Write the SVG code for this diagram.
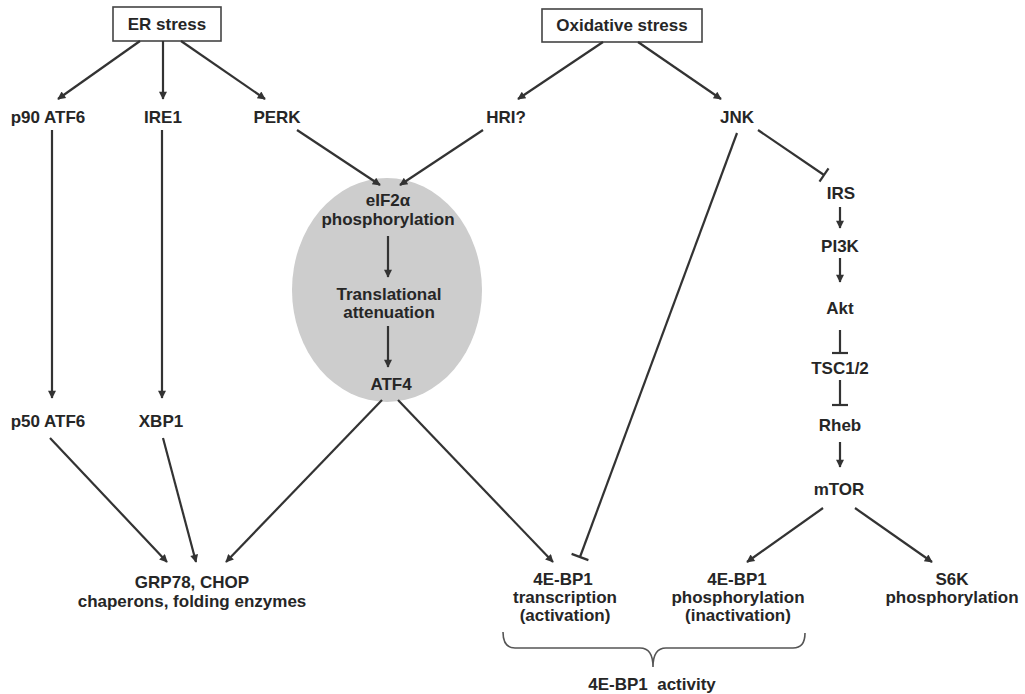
<svg xmlns="http://www.w3.org/2000/svg" width="1025" height="694" viewBox="0 0 1025 694">
<style>
text{font-family:"Liberation Sans",Arial,sans-serif;font-weight:bold;font-size:17px;fill:#262626;text-anchor:middle}
.box{fill:#fff;stroke:#444;stroke-width:1.6}
.c{stroke:#333;stroke-width:2.2;fill:none}
.a{marker-end:url(#arr)}
.brace{stroke:#555;stroke-width:1.6;fill:none}
</style>
<defs>
<marker id="arr" viewBox="0 0 10 10" refX="9" refY="5" markerWidth="10" markerHeight="8" markerUnits="userSpaceOnUse" orient="auto">
<path d="M0,0 L10,5 L0,10 z" fill="#333"/>
</marker>
</defs>
<rect width="1025" height="694" fill="#fff"/>

<g id="ellipse-bg"><ellipse cx="387" cy="290" rx="95" ry="112" fill="#cdcdcd"/></g>

<g id="er-stress"><rect class="box" x="113" y="7" width="108" height="34"/><text x="167" y="30">ER stress</text></g>
<g id="ox-stress"><rect class="box" x="542" y="9" width="160" height="33"/><text x="622" y="31">Oxidative stress</text></g>

<g id="p90atf6"><text x="48" y="123">p90 ATF6</text></g>
<g id="ire1"><text x="163" y="123">IRE1</text></g>
<g id="perk"><text x="277" y="123">PERK</text></g>
<g id="hri"><text x="506" y="123">HRI?</text></g>
<g id="jnk"><text x="737" y="123">JNK</text></g>

<g id="eif2a"><text x="388" y="206">eIF2α</text><text x="388" y="225">phosphorylation</text></g>
<g id="transl"><text x="389" y="300">Translational</text><text x="389" y="318">attenuation</text></g>
<g id="atf4"><text x="391" y="390">ATF4</text></g>

<g id="p50atf6"><text x="48" y="427">p50 ATF6</text></g>
<g id="xbp1"><text x="161" y="427">XBP1</text></g>

<g id="irs"><text x="841" y="199">IRS</text></g>
<g id="pi3k"><text x="840" y="252">PI3K</text></g>
<g id="akt"><text x="840" y="314">Akt</text></g>
<g id="tsc"><text x="840" y="374">TSC1/2</text></g>
<g id="rheb"><text x="840" y="431">Rheb</text></g>
<g id="mtor"><text x="839" y="495">mTOR</text></g>

<g id="grp78"><text x="192" y="588">GRP78, CHOP</text><text x="192" y="607">chaperons, folding enzymes</text></g>
<g id="bp1-trans"><text x="563" y="585">4E-BP1</text><text x="565" y="603">transcription</text><text x="565" y="621">(activation)</text></g>
<g id="bp1-phos"><text x="737" y="585">4E-BP1</text><text x="738" y="603">phosphorylation</text><text x="738" y="621">(inactivation)</text></g>
<g id="s6k"><text x="952" y="585">S6K</text><text x="952" y="603">phosphorylation</text></g>

<g id="bp1-activity">
<path class="brace" d="M503,632 Q503,648 515,648 L640,648 Q653,648 653,667 Q653,648 666,648 L793,648 Q805,648 805,633"/>
<text x="652" y="690" xml:space="preserve">4E-BP1  activity</text>
</g>

<g id="connectors">
<line class="c a" x1="140" y1="41" x2="58" y2="99"/>
<line class="c a" x1="163" y1="41" x2="163" y2="99"/>
<line class="c a" x1="181" y1="41" x2="265" y2="99"/>
<line class="c a" x1="603" y1="42" x2="518" y2="99"/>
<line class="c a" x1="638" y1="42" x2="721" y2="99"/>
<line class="c a" x1="52" y1="130" x2="52" y2="398"/>
<line class="c a" x1="162" y1="130" x2="162" y2="398"/>
<line class="c a" x1="297" y1="130" x2="380" y2="185"/>
<line class="c a" x1="483" y1="130" x2="400" y2="185"/>
<line class="c a" x1="388" y1="236" x2="388" y2="277"/>
<line class="c a" x1="388" y1="326" x2="388" y2="367"/>
<line class="c a" x1="50" y1="438" x2="167" y2="562"/>
<line class="c a" x1="163" y1="438" x2="196" y2="562"/>
<line class="c a" x1="382" y1="400" x2="226" y2="562"/>
<line class="c a" x1="398" y1="400" x2="553" y2="562"/>
<line class="c" x1="737" y1="133" x2="580" y2="557"/>
<line class="c" x1="571.6" y1="553.9" x2="588.4" y2="560.1"/>
<line class="c" x1="758" y1="130" x2="824" y2="175"/>
<line class="c" x1="819.5" y1="181.6" x2="828.5" y2="168.4"/>
<line class="c a" x1="840" y1="207" x2="840" y2="228"/>
<line class="c a" x1="840" y1="258" x2="840" y2="282"/>
<line class="c" x1="840" y1="330" x2="840" y2="353"/>
<line class="c" x1="832" y1="353" x2="848" y2="353"/>
<line class="c" x1="840" y1="380" x2="840" y2="405"/>
<line class="c" x1="832" y1="405" x2="848" y2="405"/>
<line class="c a" x1="840" y1="442" x2="840" y2="467"/>
<line class="c a" x1="823" y1="508" x2="747" y2="562"/>
<line class="c a" x1="855" y1="508" x2="932" y2="562"/>
</g>
</svg>
